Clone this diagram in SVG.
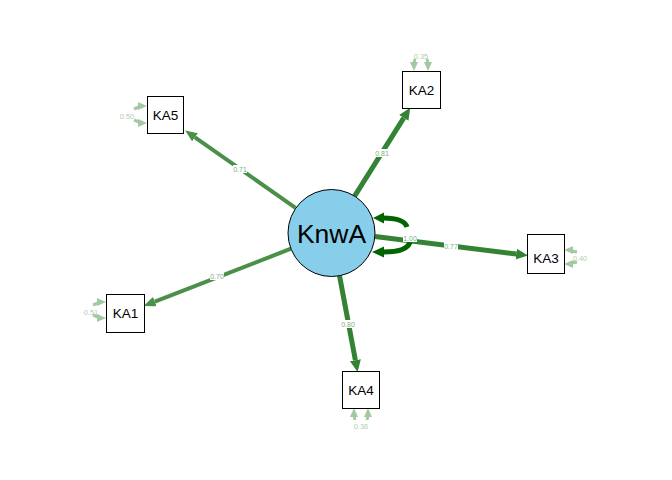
<svg xmlns="http://www.w3.org/2000/svg" width="672" height="480" viewBox="0 0 672 480">
<style>
.box{fill:#fff;stroke:#000;stroke-width:1}
.nt{font-family:"Liberation Sans",Arial,sans-serif;font-size:13.5px;fill:#000;text-anchor:middle;dominant-baseline:central}
.el{font-family:"Liberation Sans",Arial,sans-serif;font-size:7px;fill:#7fae7f;text-anchor:middle;dominant-baseline:central}
.ll{font-family:"Liberation Sans",Arial,sans-serif;font-size:7.5px;fill:#b0cfb0;text-anchor:middle;dominant-baseline:central}
.lbg{fill:#fff}
.e1{stroke:#348234;stroke-width:5;fill:none}
.e2{stroke:#4a8f4a;stroke-width:4;fill:none}
.lp{stroke:#a3c9a3;stroke-width:3;fill:none}
.sl{stroke:#006400;stroke-width:5;fill:none}
</style>
<defs>
<marker id="a1" markerUnits="userSpaceOnUse" markerWidth="12" markerHeight="11" refX="0" refY="5.5" orient="auto"><path d="M0,0 L12,5.5 L0,11 z" fill="#348234"/></marker>
<marker id="a2" markerUnits="userSpaceOnUse" markerWidth="12" markerHeight="10" refX="0" refY="5" orient="auto"><path d="M0,0 L12,5 L0,10 z" fill="#4a8f4a"/></marker>
</defs>
<rect width="672" height="480" fill="#fff"/>
<g id="connectors">
  <!-- box self loops -->
  <g class="lp">
    <path d="M415,59 L414,63"/><path d="M427,59 L428,63"/>
    <path d="M134,109 L139,107"/><path d="M134,120 L139,122"/>
    <path d="M93,305 L98,303"/><path d="M93,315 L98,317"/>
    <path d="M355,420 L354,416"/><path d="M367,420 L368,416"/>
    <path d="M577,252 L572,251"/><path d="M577,262 L572,263"/>
  </g>
  <g fill="#a3c9a3">
    <polygon points="414,71 410,62 418,62"/><polygon points="428,71 424,62 432,62"/>
    <polygon points="147,106 138,102 138,110"/><polygon points="147,123 138,119 138,127"/>
    <polygon points="106,302 97,298 97,306"/><polygon points="106,318 97,314 97,322"/>
    <polygon points="354,408 350,417 358,417"/><polygon points="368,408 364,417 372,417"/>
    <polygon points="564,250 573,246 573,254"/><polygon points="564,264 573,260 573,268"/>
  </g>
  <!-- main edges -->
  <line class="e2" x1="295.5" y1="207.8" x2="195" y2="137.3" marker-end="url(#a2)"/>
  <line class="e1" x1="354.6" y1="196.2" x2="403.8" y2="117.8" marker-end="url(#a1)"/>
  <line class="e1" x1="375" y1="236.5" x2="516.1" y2="254.1" marker-end="url(#a1)"/>
  <line class="e1" x1="339.5" y1="275.8" x2="355.4" y2="360.2" marker-end="url(#a1)"/>
  <line class="e2" x1="291" y1="248.7" x2="154.8" y2="301.6" marker-end="url(#a2)"/>
  <!-- KnwA self loop -->
  <path class="sl" d="M407,227 Q404,218 383,218"/>
  <path class="sl" d="M410,242 Q407,252 384,252"/>
  <polygon points="373,218 384,212.5 384,223.5" fill="#006400"/>
  <polygon points="372,252 384,246.5 384,257.5" fill="#006400"/>
  <!-- edge labels -->
  <rect class="lbg" x="233" y="165" width="14" height="8"/><text class="el" x="240" y="169">0.71</text>
  <rect class="lbg" x="375" y="149" width="14" height="8"/><text class="el" x="382" y="153">0.81</text>
  <rect class="lbg" x="444" y="242" width="14" height="8"/><text class="el" x="451" y="246">0.77</text>
  <rect class="lbg" x="341" y="320" width="14" height="8"/><text class="el" x="348" y="324">0.80</text>
  <rect class="lbg" x="210" y="272" width="14" height="8"/><text class="el" x="217" y="276">0.70</text>
  <rect class="lbg" x="403" y="234" width="14" height="8"/><text class="el" x="410" y="238">1.00</text>
  <text class="ll" x="421" y="56">0.35</text>
  <text class="ll" x="127" y="116">0.50</text>
  <text class="ll" x="91" y="312">0.51</text>
  <text class="ll" x="361" y="426">0.36</text>
  <text class="ll" x="580" y="258">0.40</text>
</g>
<g id="KnwA">
  <circle cx="331.5" cy="233" r="43.5" fill="#87ceeb" stroke="#000" stroke-width="1"/>
  <text x="331.5" y="234" font-family="'Liberation Sans',Arial,sans-serif" font-size="26.5" text-anchor="middle" dominant-baseline="central" fill="#000">KnwA</text>
</g>
<g id="KA1"><rect class="box" x="106.5" y="294.5" width="38" height="38"/><text class="nt" x="125.5" y="313.5">KA1</text></g>
<g id="KA2"><rect class="box" x="402.5" y="71.5" width="38" height="37"/><text class="nt" x="421.5" y="90">KA2</text></g>
<g id="KA3"><rect class="box" x="527.5" y="234.5" width="37" height="39"/><text class="nt" x="546" y="258">KA3</text></g>
<g id="KA4"><rect class="box" x="342.5" y="371.5" width="37" height="37"/><text class="nt" x="361" y="390">KA4</text></g>
<g id="KA5"><rect class="box" x="147.5" y="96.5" width="36" height="37"/><text class="nt" x="165.5" y="115">KA5</text></g>
</svg>
